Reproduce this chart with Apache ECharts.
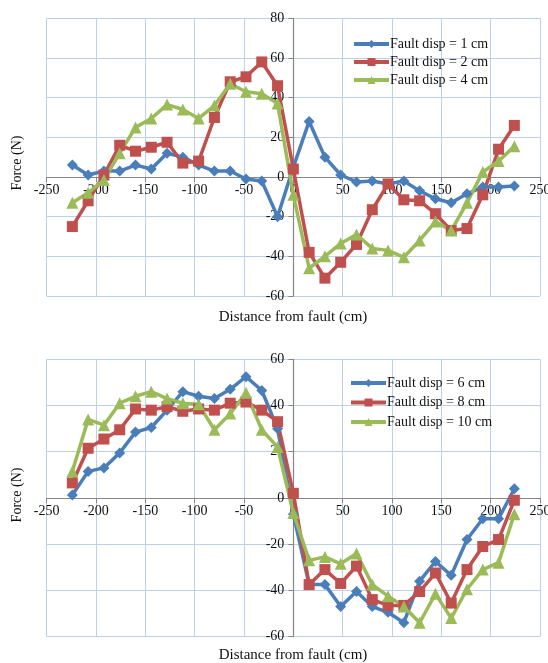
<!DOCTYPE html>
<html>
<head>
<meta charset="utf-8">
<script src="https://cdn.jsdelivr.net/npm/echarts@6/dist/echarts.min.js"></script>
<style>
html,body{margin:0;padding:0;background:#fff;}
#c{width:548px;height:663px;}
</style>
</head>
<body>
<div id="c"></div>
<script>
var distances = [-224,-208,-192,-176,-160,-144,-128,-112,-96,-80,-64,-48,-32,-16,0,16,32,48,64,80,96,112,128,144,160,176,192,208,224];
var xTicks = [-250,-200,-150,-100,-50,0,50,100,150,200,250];
var yTicksTop = [-60,-40,-20,0,20,40,60,80];
var yTicksBottom = [-60,-40,-20,0,20,40,60];

var disp1 = [6,1,3,3,6,4,12,10,6,3,3,-1,-2,-20,5,28,10,1,-2.5,-2,-3.5,-2,-7,-11,-13,-8.5,-5,-5,-4.5];
var disp2 = [-25,-12,1,16,13,15,17.5,7,8,30,48,50.5,58,46,4,-38,-51,-43,-34,-16.5,-3.5,-11.5,-12,-18.5,-27,-26,-9,14,26];
var disp4 = [-13,-8,-1.5,12,25,29.5,36.5,34,29.5,36,47,43,42,37,-9,-46,-40,-33.5,-29,-36,-37,-40.5,-32,-22.5,-27,-13,2.5,8,15.5];

var disp6 = [1.3,11.5,13,19.5,28.5,30.5,38,46,44,43,47,52.5,46.5,30,-7,-37.5,-37.5,-47,-40.5,-47,-49.5,-54,-36,-27.5,-33.5,-18,-9,-9,4];
var disp8 = [6.5,21.5,25.5,29.5,38.5,38,39.5,37.5,38.5,38,41,41.5,38,33,2,-37.5,-31,-37,-29.5,-44,-46.5,-46.5,-40.5,-32.5,-45.5,-31,-21,-18,-1];
var disp10 = [11.5,34,31.5,41,44,46,43,41,40.5,29.5,36.5,45.5,29.5,22,-6.5,-27,-25.5,-28.5,-24,-37.5,-42.5,-47,-54,-41.5,-52,-39.5,-31,-28,-7];

var namesTop = ['Fault disp = 1 cm','Fault disp = 2 cm','Fault disp = 4 cm'];
var namesBottom = ['Fault disp = 6 cm','Fault disp = 8 cm','Fault disp = 10 cm'];

var BLUE = '#4A7EBB', RED = '#C0504D', GREEN = '#9BBB59';
var FONT = '"Liberation Serif", "Times New Roman", serif';
var GRIDC = '#BCD0EA', AXC = '#868686';

var W = 548, GL = 46.7, GR = 8;
var grids = [
  {left:GL, right:GR, top:18.3, height:277.7, outerBoundsMode:'none', containLabel:false},
  {left:GL, right:GR, top:359.3, height:277.3, outerBoundsMode:'none', containLabel:false}
];
var gridW = W - GL - GR;

function pairs(vals){ return distances.map(function(d,i){ return [d, vals[i]]; }); }

// place each axis through the zero of the other axis (labels included)
function zeroFrac(ticks){ var mn = ticks[0], mx = ticks[ticks.length-1]; return (0 - mn) / (mx - mn); }

function xAx(idx, yt){
  return {
    type:'value', gridIndex:idx, min:xTicks[0], max:xTicks[xTicks.length-1], interval:50,
    position:'bottom', offset: -grids[idx].height * zeroFrac(yt),
    axisLine:{onZero:false, lineStyle:{color:AXC, width:1.2}},
    axisTick:{show:true, length:5, inside:false, lineStyle:{color:AXC}},
    axisLabel:{color:'#111', fontFamily:FONT, fontSize:14, margin:6, hideOverlap:false},
    splitLine:{show:true, lineStyle:{color:GRIDC, width:1}}
  };
}
function yAx(idx, ticks){
  return {
    type:'value', gridIndex:idx, min:ticks[0], max:ticks[ticks.length-1], interval:20,
    position:'left', offset: -gridW * zeroFrac(xTicks),
    axisLine:{show:true, onZero:false, lineStyle:{color:AXC, width:1.2}},
    axisTick:{show:true, length:5, lineStyle:{color:AXC}},
    axisLabel:{color:'#111', fontFamily:FONT, fontSize:14, margin:9, hideOverlap:false},
    splitLine:{show:true, lineStyle:{color:GRIDC, width:1}}
  };
}
function ser(name, vals, color, symbol, size, gi){
  return {
    name:name, type:'line', xAxisIndex:gi, yAxisIndex:gi, data:pairs(vals),
    symbol:symbol, symbolSize:size, showAllSymbol:true,
    lineStyle:{color:color, width:3.5}, itemStyle:{color:color, borderWidth:0},
    emphasis:{disabled:true}, animation:false
  };
}
function leg(names, left, top, gap){
  return {data:names, orient:'vertical', left:left, top:top, itemWidth:35, itemHeight:10, itemGap:gap,
    lineStyle:{width:4}, padding:0, selectedMode:false,
    textStyle:{fontFamily:FONT, fontSize:14, color:'#111', padding:[0,0,0,-4]}};
}

var chart = echarts.init(document.getElementById('c'), null, {renderer:'canvas'});
chart.setOption({
  backgroundColor:'#fff',
  animation:false,
  grid:grids,
  xAxis:[xAx(0, yTicksTop), xAx(1, yTicksBottom)],
  yAxis:[yAx(0, yTicksTop), yAx(1, yTicksBottom)],
  legend:[leg(namesTop, 352, 37, 4), leg(namesBottom, 349, 376, 5.5)],
  graphic:[
    {type:'text', x:17, y:163, rotation:Math.PI/2, style:{text:'Force (N)', font:'14px '+FONT, fill:'#111', textAlign:'center', textVerticalAlign:'middle'}},
    {type:'text', x:17, y:495, rotation:Math.PI/2, style:{text:'Force (N)', font:'14px '+FONT, fill:'#111', textAlign:'center', textVerticalAlign:'middle'}},
    {type:'text', x:293, y:317, style:{text:'Distance from fault (cm)', font:'15px '+FONT, fill:'#111', textAlign:'center', textVerticalAlign:'middle'}},
    {type:'text', x:293, y:655, style:{text:'Distance from fault (cm)', font:'15px '+FONT, fill:'#111', textAlign:'center', textVerticalAlign:'middle'}}
  ],
  series:[
    ser(namesTop[0], disp1, BLUE, 'diamond', 11, 0),
    ser(namesTop[1], disp2, RED, 'rect', 11, 0),
    ser(namesTop[2], disp4, GREEN, 'triangle', 12, 0),
    ser(namesBottom[0], disp6, BLUE, 'diamond', 11, 1),
    ser(namesBottom[1], disp8, RED, 'rect', 11, 1),
    ser(namesBottom[2], disp10, GREEN, 'triangle', 12, 1)
  ]
});
</script>
</body>
</html>
